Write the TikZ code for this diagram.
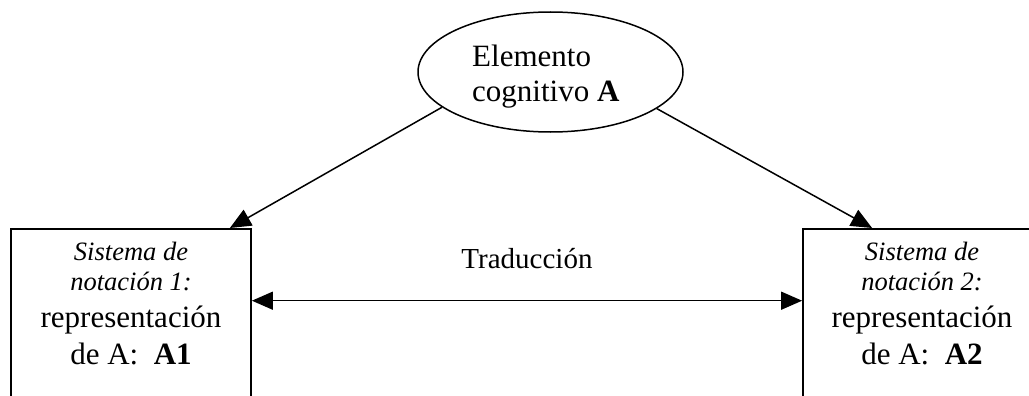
\documentclass[tikz,border=0pt]{standalone}
\usepackage{fontspec}
\setmainfont{Liberation Serif}
\usetikzlibrary{arrows.meta,shapes.geometric,calc}
\newcommand{\smallit}{\fontsize{26.5}{37}\selectfont\itshape}
\newcommand{\bigrm}{\fontsize{31}{37}\selectfont\upshape}
\begin{document}
\begin{tikzpicture}[x=1pt,y=-1pt,
  conn/.style={line width=1.5pt},
  headtip/.style={-{Triangle[length=21pt,width=18pt]}},
  bothtip/.style={{Triangle[length=21pt,width=18pt]}-{Triangle[length=21pt,width=18pt]}},
  boxnode/.style={draw,line width=1.8pt,minimum width=240pt,minimum height=200pt,anchor=north,inner sep=0pt},
  boxtext/.style={anchor=north,inner sep=0pt,align=center,font=\fontsize{31}{37}\selectfont},
  ellnode/.style={draw,ellipse,line width=1.5pt,minimum width=265pt,minimum height=120pt,inner sep=0pt}]
\useasboundingbox (0,0) rectangle (1029,396);
\clip (0,0) rectangle (1029,396);
% shapes
\node[ellnode] (ell) at (550.5,72) {};
\node[boxnode] (box1) at (131,228) {};
\node[boxnode] (box2) at (923,228) {};
% texts
\node[anchor=north west,inner sep=0pt,align=left,font=\fontsize{31}{35.5}\selectfont] (elltxt) at (472,44.5) {Elemento\\cognitivo \textbf{A}};
\node[boxtext] (t1) at (131,242) {\smallit Sistema de\\[-7pt]\smallit notación 1:\\\bigrm representación\\\bigrm de A:\ \ \textbf{A1}};
\node[boxtext] (t2) at (922,242) {\smallit Sistema de\\[-7pt]\smallit notación 2:\\\bigrm representación\\\bigrm de A:\ \ \textbf{A2}};
\node[anchor=base,inner sep=0pt,font=\fontsize{29}{34}\selectfont] (trad) at (527,268) {Traducción};
% connectors
\draw[conn,headtip] (ell.198.4) -- ([xshift=-22pt]box1.north east);
\draw[conn,headtip] (ell.341.3) -- ([xshift=70pt]box2.north west);
\draw[conn,bothtip] ($(box1.north east)+(0,72.7)$) -- ($(box2.north west)+(0,72.7)$);
\end{tikzpicture}
\end{document}
